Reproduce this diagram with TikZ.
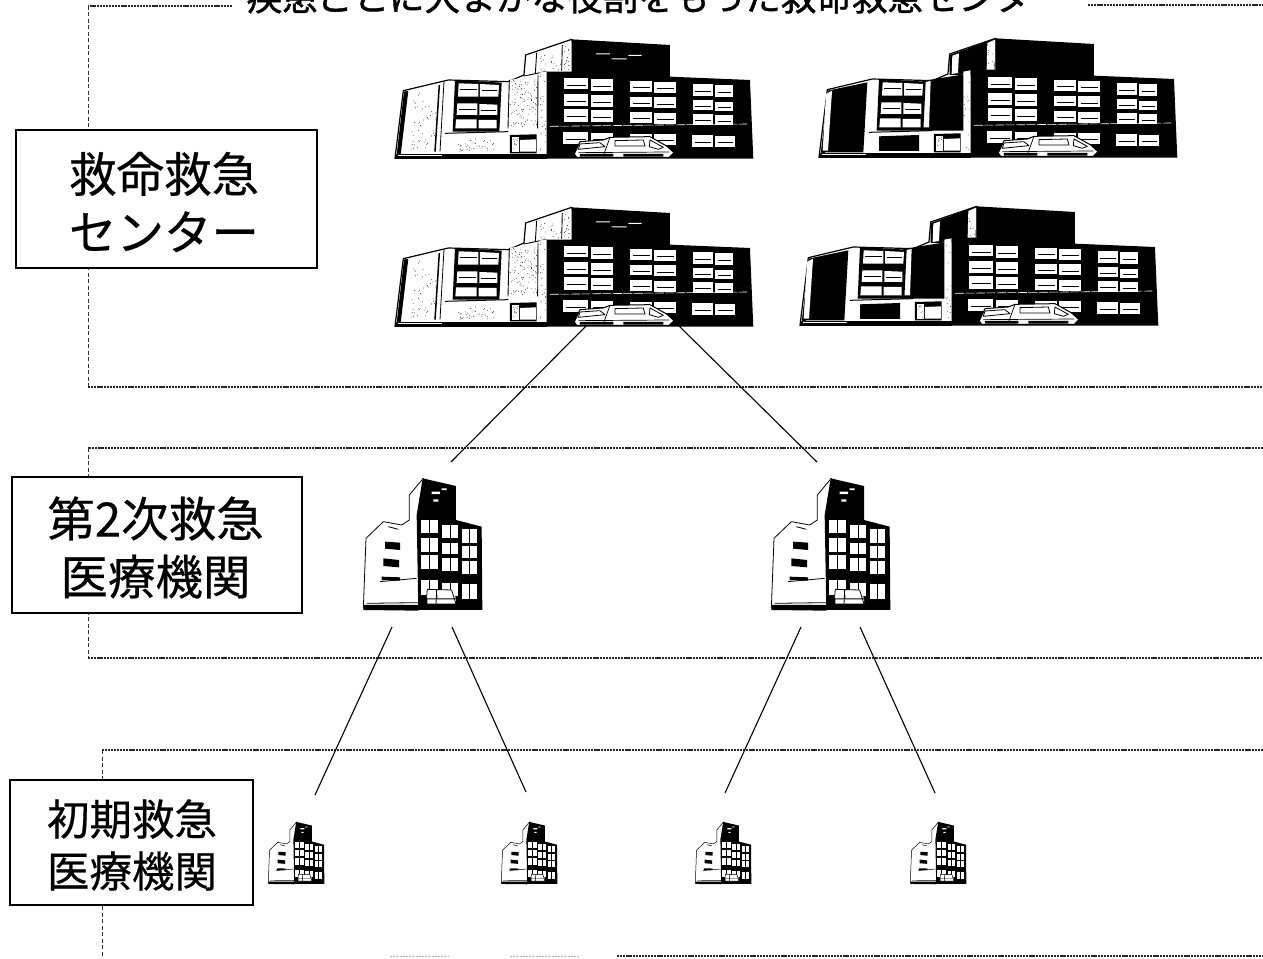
\documentclass[tikz,border=0pt]{standalone}
\usepackage{fontspec}
\setmainfont[FakeBold=0.45]{Noto Sans CJK JP}
\newfontfamily\titlefont[FakeBold=1.3]{Noto Sans CJK JP}
\tikzset{
  frameline/.style={line width=1.1pt, black!85, dash pattern=on 2.2pt off 0.9pt},
  framerise/.style={line width=0.8pt, black!80, dash pattern=on 4pt off 2.5pt},
  faintline/.style={line width=0.9pt, black!30, dash pattern=on 2pt off 1.2pt},
  link/.style={line width=1.1pt, black},
  labelbox/.style={draw=black, line width=1.2pt, fill=white, inner sep=0pt},
  labeltext/.style={align=center, inner sep=0pt, text=black},
  ink/.style={fill=black, draw=none},
  paper/.style={fill=white, draw=none},
  outline/.style={draw=black, line width=1.2pt, fill=white}
}
\newcommand{\speckle}[5]{%
  \foreach \i in {1,...,#5}{\fill[black] ({#1+rnd*(#2-#1)},{#3+rnd*(#4-#3)}) circle[radius=1.2];}}
% big building; local units are 1/3 px. #1 x, #2 y, #3 panel colour, #4 1=speckled
\newcommand{\bigbuilding}[4]{%
\begin{scope}[shift={(#1,#2)}, x=0.3333pt, y=-0.3333pt, line join=round]
  \draw[outline] (45,475)--(70,272)--(205,240)--(385,245)--(432,225)--(437,165)--(575,118)--(600,200)--(500,475)--cycle;
  % left wing
  \fill[ink] (50,465)--(72,275)--(85,272)--(62,465)--cycle;
  \ifnum#4=0
    \fill[ink] (85,272)--(190,250)--(178,460)--(62,460)--cycle;
    \fill[paper] (66,285)--(84,275)--(72,455)--(56,455)--cycle;
    \fill[ink] (437,168)--(575,118)--(575,225)--(437,228)--cycle;
    \fill[paper] (445,170)--(465,163)--(462,222)--(443,225)--cycle;
    \fill[ink] (355,246)--(480,226)--(480,395)--(350,395)--cycle;
    \fill[paper] (358,250)--(380,246)--(375,385)--(350,385)--cycle;
  \else
    \fill[#3] (95,270)--(178,255)--(165,455)--(85,455)--cycle;
    \draw[line width=1.5pt] (178,255)--(165,455);
    \draw[line width=0.8pt] (192,245)--(180,455);
  \fi
  \fill[ink] (225,240)--(365,248)--(358,395)--(218,395)--cycle;
  \fill[paper] (236,250)--(295,252)--(295,290)--(234,290)--cycle (300,252)--(357,255)--(355,290)--(300,290)--cycle
    (232,310)--(292,310)--(292,345)--(230,345)--cycle (298,312)--(352,314)--(352,345)--(298,345)--cycle
    (228,358)--(290,358)--(290,385)--(226,385)--cycle (296,360)--(350,360)--(350,385)--(296,385)--cycle;
  \draw[line width=0.6pt] (240,268)--(290,268) (305,272)--(350,272) (236,328)--(288,328) (302,330)--(348,330);
  \ifnum#4=1
    \fill[#3] (390,240)--(473,225)--(472,385)--(386,385)--cycle;
    \draw[line width=0.9pt] (388,240)--(384,385) (474,225)--(473,385);
  \fi
  \draw[line width=1pt] (195,400)--(385,395);
  \fill[#3] (225,412)--(345,408)--(345,456)--(225,456)--cycle;
  \fill[ink] (390,405)--(470,403)--(470,460)--(390,460)--cycle;
  \fill[paper] (420,420)--(468,418)--(468,455)--(420,455)--cycle;
  \fill[paper] (395,412)--(416,412)--(416,455)--(395,455)--cycle;
  \fill[ink] (45,462)--(500,462)--(500,476)--(45,476)--cycle;
  \fill[paper] (55,464)--(185,464)--(185,469)--(55,469)--cycle;
  % upper tower
  \ifnum#4=1
    \draw[line width=0.9pt] (470,158)--(466,222) (547,135)--(545,212) (432,228)--(500,214);
  \fi
  \fill[paper] (550,132)--(573,122)--(572,212)--(548,212)--cycle;
  \fill[paper] (478,218)--(500,214)--(500,458)--(478,458)--cycle;
  \ifnum#4=1
    \pgfmathsetseed{#1}%
    \speckle{95}{170}{280}{450}{55}
    \speckle{392}{470}{240}{380}{100}
    \speckle{228}{342}{412}{454}{40}
    \speckle{480}{498}{222}{455}{22}
    \speckle{478}{542}{165}{210}{18}
    \speckle{552}{572}{135}{210}{16}
    \speckle{398}{414}{414}{453}{10}
  \fi
  \ifnum#4=0
    \pgfmathsetseed{#1}%
    \speckle{552}{572}{135}{210}{8}
    \speckle{480}{498}{222}{455}{14}
    \speckle{398}{414}{414}{453}{8}
  \fi
  % black block
  \fill[ink] (500,215)--(575,215)--(575,118)--(870,135)--(870,230)--(1110,240)--(1120,476)--(500,476)--cycle;
  \ifnum#4=1
    \fill[paper] (648,160) rectangle (690,163) (695,175) rectangle (740,178) (745,165) rectangle (785,168);
  \fi
  % windows
  \foreach \wx/\wy/\wa/\wb in {553/235/625/268,632/238/700/272,553/282/625/318,632/285/700/320,553/328/625/365,632/330/700/365,
    750/243/815/277,822/245/888/280,750/290/815/322,822/292/888/325,750/335/815/368,822/338/888/372,
    938/252/998/288,1005/255/1060/290,938/300/998/330,1005/305/1060/332,938/342/998/374,1005/345/1060/375,
    550/397/625/432,632/400/700/432,750/402/815/435,822/402/888/435,936/405/998/440,1005/408/1064/442}{
    \fill[paper] (\wx,\wy) rectangle (\wa,\wb);
    \draw[line width=0.6pt] (\wx+8,{(\wy+\wb)/2+3}) -- (\wa-6,{(\wy+\wb)/2+3});
  }
  \draw[white, line width=0.6pt, dash pattern=on 9pt off 1.5pt] (510,379)--(1102,372);
  % ambulance
  \fill[paper] (583,462)--(600,425)--(670,420)--(690,412)--(810,410)--(860,438)--(882,458)--(868,472)--(590,472)--cycle;
  \draw[line width=1pt] (583,462)--(600,425)--(670,420)--(690,412)--(810,410)--(860,438)--(882,458)--(868,472)--(590,472)--cycle;
  \draw[line width=0.8pt, fill=white] (600,432)--(660,428)--(675,440)--(595,448)--cycle;
  \draw[line width=0.8pt, fill=white] (705,422)--(790,420)--(795,438)--(705,438)--cycle;
  \draw[line width=0.8pt] (810,420)--(850,442)--(835,448)--(808,440)--cycle;
  \draw[line width=0.7pt] (595,458)--(868,456) (690,412)--(672,462);
  \fill[ink] (600,462)--(700,462)--(700,470)--(600,470)--cycle (730,462)--(850,462)--(850,470)--(730,470)--cycle;
\end{scope}}
% medium/small building. #1 x, #2 y, #3 scale (px per zoom unit), #4 line scale
\newcommand{\midbuilding}[4]{%
\begin{scope}[shift={(#1,#2)}, x=#3pt, y=-#3pt, line join=round]
  \draw[draw=black, line width=#4pt, fill=white] (40,415)--(48,205)--(100,155)--(155,165)--(178,150)--(178,75)--(220,25)--(240,200)--(205,415)--cycle;
  \fill[ink] (200,135)--(218,25)--(318,48)--(318,150)--(395,170)--(397,420)--(205,420)--cycle;
  \foreach \wx/\wy/\wa/\wb in {212/150/265/190,277/165/325/205,337/178/380/218,
    212/205/265/245,277/218/325/252,337/228/380/265,
    212/255/265/297,277/265/325/303,337/272/380/312,
    212/330/265/375,277/338/325/378,337/343/380/388}{
    \fill[paper] (\wx,\wy) rectangle (\wa,\wb);
    \fill[ink] ({(\wx+\wa)/2-2},\wy) rectangle ({(\wx+\wa)/2+2},\wb);
  }
  \fill[white] (245,65) rectangle (270,72) (250,88) rectangle (265,95) (275,55) rectangle (290,60);
  \fill[ink] (105,215)--(150,218)--(150,240)--(105,236)--cycle (100,265)--(147,270)--(147,292)--(100,288)--cycle;
  \draw[line width=#4pt] (90,335)--(200,325) (115,170)--(145,178) (50,400)--(205,398);
  \fill[ink] (95,320)--(150,322)--(150,332)--(95,330)--cycle (40,405)--(205,405)--(205,422)--(40,420)--cycle;
  \fill[ink] (205,410) rectangle (397,420);
  \fill[paper] (232,358)--(260,358)--(258,385)--(228,385)--cycle (262,360)--(305,360)--(318,385)--(262,385)--cycle (232,388)--(318,388)--(318,402)--(232,402)--cycle;
  \draw[line width=#4pt] (232,358)--(305,360)--(318,402)--(228,402)--cycle (260,358)--(258,402);
\end{scope}}
\begin{document}
\begin{tikzpicture}[x=1pt,y=-1pt]
\useasboundingbox (0,0) rectangle (1263,958);
\clip (0,0) rectangle (1263,958);
\fill[white] (0,0) rectangle (1263,958);
% frames
\draw[frameline] (232,6)--(88,6);
\draw[framerise] (88,6)--(88,387);
\draw[frameline] (88,387)--(1263,387);
\draw[frameline] (1088,5)--(1263,5);
\draw[frameline] (1263,448)--(88,448);
\draw[framerise] (88,448)--(88,658);
\draw[frameline] (88,658)--(1263,658);
\draw[frameline] (1263,750)--(102,750);
\draw[framerise] (102,750)--(102,958);
\draw[frameline] (617,956)--(1263,956);
\draw[faintline] (390,956)--(448,956) (510,956)--(580,956);
% title
\node[anchor=base, inner sep=0pt, font=\fontsize{35.6}{40}\titlefont] (title) at (656,10.5) {疾患ごとに大まかな役割をもった救命救急センター};
% buildings
\bigbuilding{380}{0}{white}{1}
\bigbuilding{804}{-1}{black}{0}
\bigbuilding{380}{168}{white}{1}
\bigbuilding{785}{167}{black}{0}
\midbuilding{350}{470}{0.3333}{0.8}
\midbuilding{758}{470}{0.3333}{0.8}
\midbuilding{262}{818}{0.157}{0.5}
\midbuilding{495}{818}{0.157}{0.5}
\midbuilding{689}{818}{0.157}{0.5}
\midbuilding{904}{818}{0.157}{0.5}
% connector ends
\coordinate (hubL) at (587,325); \coordinate (hubR) at (678,325);
\coordinate (midAtop) at (451,462); \coordinate (midBtop) at (817,462);
\coordinate (midAl) at (392,627); \coordinate (midAr) at (452,627);
\coordinate (midBl) at (801,627); \coordinate (midBr) at (860,627);
\coordinate (s1) at (315,795); \coordinate (s2) at (526,792);
\coordinate (s3) at (725,793); \coordinate (s4) at (935,793);
\draw[link] (hubL)--(midAtop);
\draw[link] (hubR)--(midBtop);
\draw[link] (midAl)--(s1);
\draw[link] (midAr)--(s2);
\draw[link] (midBl)--(s3);
\draw[link] (midBr)--(s4);
% labels
\node[labelbox, minimum width=301pt, minimum height=138pt] (boxA) at (166.5,199) {};
\node[labeltext, font=\fontsize{47.5}{58}\selectfont] (textA) at (164,202) {救命救急\\センター};
\node[labelbox, minimum width=290pt, minimum height=136pt] (boxB) at (157,545) {};
\node[labeltext, font=\fontsize{47.5}{58}\selectfont] (textB) at (155.5,547.5) {第2次救急\\医療機関};
\node[labelbox, minimum width=243pt, minimum height=125pt] (boxC) at (131.5,842.5) {};
\node[labeltext, font=\fontsize{42.5}{52}\selectfont] (textC) at (132,845) {初期救急\\医療機関};
\end{tikzpicture}
\end{document}
